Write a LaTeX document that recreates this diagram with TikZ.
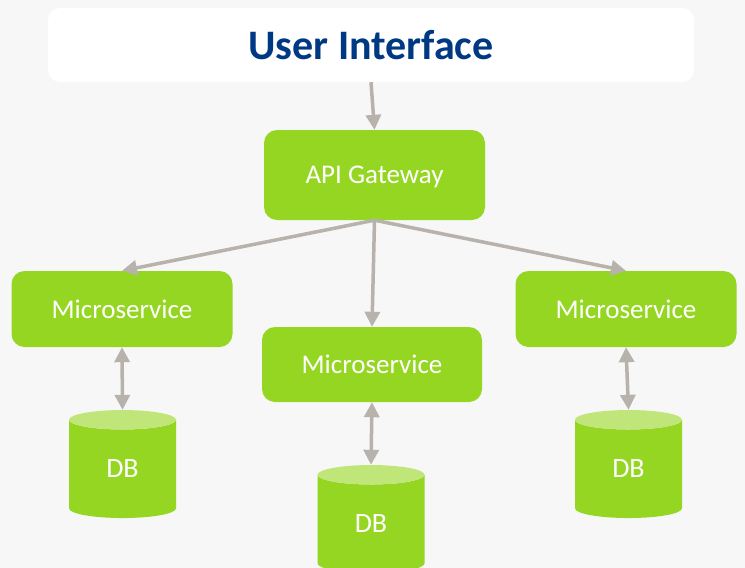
\documentclass[tikz,border=0pt]{standalone}
\usepackage{fontspec}
\setmainfont{Carlito}
\usetikzlibrary{arrows.meta,shapes.geometric}

\definecolor{bggray}{RGB}{247,247,247}
\definecolor{msgreen}{RGB}{149,214,35}
\definecolor{dbtop}{RGB}{192,230,122}
\definecolor{linkgray}{RGB}{184,178,172}
\definecolor{uiblue}{RGB}{0,57,131}

\tikzset{
  box/.style={rectangle, rounded corners=13pt, fill=msgreen, text=white,
    font=\fontsize{27}{32}\selectfont, inner sep=0pt, text depth=0pt},
  dbnode/.style={cylinder, shape border rotate=90, aspect=0.6,
    cylinder uses custom fill, cylinder body fill=msgreen, cylinder end fill=dbtop,
    minimum width=107pt, minimum height=108pt, inner sep=0pt, text=white, text depth=0pt,
    font=\fontsize{28}{33}\selectfont},
  link/.style={draw=linkgray, line width=3.5pt, -{Triangle[length=15pt,width=15pt]}},
  dblink/.style={link, {Triangle[length=15pt,width=15pt]}-{Triangle[length=15pt,width=15pt]}}
}

\begin{document}
\begin{tikzpicture}[x=1pt, y=-1pt]
  \fill[bggray] (0,0) rectangle (745,568);
  \useasboundingbox (0,0) rectangle (745,568);
  \clip (0,0) rectangle (745,568);

  \node[rectangle, rounded corners=12pt, fill=white, minimum width=646pt, minimum height=74pt,
    text=uiblue, font=\fontsize{42}{50}\selectfont\bfseries] (ui) at (371,45) {User Interface};

  \node[box, minimum width=221pt, minimum height=90pt] (api) at (374.5,175) {API Gateway};

  \node[box, minimum width=221pt, minimum height=76pt] (msleft) at (122,309) {Microservice};
  \node[box, minimum width=220pt, minimum height=75pt] (msmid) at (372,364.5) {Microservice};
  \node[box, minimum width=221pt, minimum height=76pt] (msright) at (626,309) {Microservice};

  \node[dbnode] (dbleft) at (122.5,469) {DB};
  \node[dbnode] (dbmid) at (371,524) {DB};
  \node[dbnode] (dbright) at (628.5,469) {DB};

  \draw[link] (ui.south) -- (api.north);
  \draw[link] (api.south) -- (msleft.north);
  \draw[link] (api.south) -- (msmid.north);
  \draw[link] (api.south) -- (msright.north);

  \draw[dblink] (msleft.south) -- (dbleft.north);
  \draw[dblink] (msmid.south) -- (dbmid.north);
  \draw[dblink] (msright.south) -- (dbright.north);
\end{tikzpicture}
\end{document}
